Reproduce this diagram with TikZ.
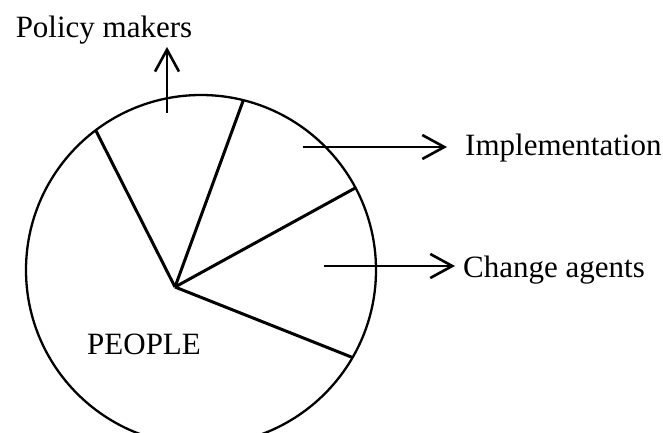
\documentclass[tikz,border=0pt]{standalone}
\usepackage{fontspec}
\setmainfont{Liberation Serif}
\usetikzlibrary{arrows.meta}
\usetikzlibrary{positioning}

\tikzset{
	lbl/.style={font=\fontsize{31}{36}\selectfont, inner sep=0pt},
	spoke/.style={line width=3pt},
	arr/.style={->, line width=2.8pt}
}

\begin{document}
\begin{tikzpicture}[x=1pt, y=1pt, >={Straight Barb[length=22pt,width=24pt,line width=2.6pt]}]
		\useasboundingbox (0,0) rectangle (663,-433);
		% the people circle and its slices
		\node[draw, circle, line width=2.3pt, minimum size=350pt, inner sep=0pt, outer sep=0pt] (pie) at (201,-270) {};
		\coordinate (hub) at (175,-287);
		\draw[spoke] (hub) -- (pie.127);
		\draw[spoke] (hub) -- (pie.76);
		\draw[spoke] (hub) -- (pie.28);
		\draw[spoke] (hub) -- (pie.-30);
		\node[lbl, anchor=base west] (people) at (87,-354) {PEOPLE};
		% labels
		\node[lbl, anchor=base] (policy) at (104,-38) {Policy makers};
		\node[lbl, anchor=west] (impl) at (465,-148) {Implementation};
		\node[lbl, anchor=west] (agents) at (463,-270) {Change agents};
		% arrows out of the circle
		\coordinate (policyfrom) at (167,-113);
		\coordinate (implfrom) at (303,-147);
		\coordinate (agentsfrom) at (324,-266);
		\draw[arr, shorten >=2pt] (policyfrom) -- (policyfrom |- policy.south);
		\draw[arr, shorten >=18pt] (implfrom) -- (implfrom -| impl.west);
		\draw[arr, shorten >=8pt] (agentsfrom) -- (agentsfrom -| agents.west);
\end{tikzpicture}
\end{document}
